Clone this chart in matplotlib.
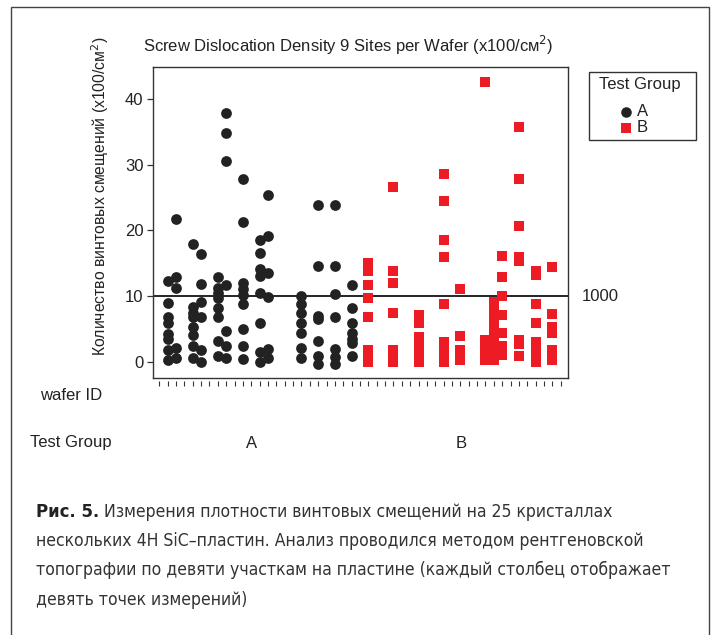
"""
plot.py - Screw dislocation density, 9 sites per wafer, grouped by test group
"""
import matplotlib
matplotlib.use("Agg")
import matplotlib.pyplot as plt
from matplotlib import font_manager
from matplotlib.lines import Line2D
from matplotlib.patches import Rectangle

# wafer slot on the x axis -> 9-site measurements (x100/cm^2)
slots_a = [1, 2, 4, 5, 7, 8, 10, 12, 13, 17, 19, 21, 23]
density_a = [
    [12.4, 9.0, 6.8, 5.9, 4.3, 3.5, 1.8, 0.4],
    [21.7, 13.0, 11.2, 2.1, 0.6],
    [17.9, 8.4, 7.5, 6.8, 5.4, 4.1, 2.4, 0.6],
    [16.4, 11.9, 9.2, 6.9, 1.8, 0.1],
    [12.9, 11.3, 10.5, 9.8, 8.2, 6.8, 3.3, 0.9],
    [37.8, 34.8, 30.6, 11.7, 4.8, 2.4, 0.6],
    [27.8, 21.3, 12.0, 11.1, 10.2, 8.8, 5.0, 2.4, 0.5],
    [18.6, 16.6, 14.2, 13.1, 10.5, 6.0, 1.5, 0.1],
    [25.4, 19.2, 13.5, 9.9, 2.0, 0.6],
    [10.0, 8.8, 7.5, 6.0, 4.5, 2.1, 0.6],
    [23.8, 14.6, 7.0, 6.5, 3.2, 1.0, -0.3],
    [23.8, 14.6, 10.3, 6.8, 2.0, 0.8, -0.3],
    [11.7, 8.2, 6.0, 4.4, 3.5, 2.9, 1.0],
]
slots_b = [25, 28, 31, 34, 36, 39, 40, 41, 43, 45, 47]
density_b = [
    [15.1, 13.9, 11.7, 9.7, 6.8, 1.9, 1.1, 0.1],
    [26.6, 13.9, 12.0, 7.5, 1.8, 0.9, 0.0],
    [7.2, 5.9, 3.9, 3.0, 1.9, 1.0, 0.1],
    [28.6, 24.5, 18.6, 16.0, 8.8, 3.1, 1.9, 1.0, 0.1],
    [11.1, 4.0, 1.9, 0.4],
    [42.5, 3.4, 2.4, 1.4, 0.4],
    [9.2, 8.2, 7.0, 5.7, 4.4, 3.4, 1.9, 0.4],
    [16.2, 12.9, 10.0, 7.2, 4.4, 2.4, 1.1],
    [35.7, 27.8, 20.7, 16.0, 15.3, 3.4, 2.7, 0.9],
    [13.9, 13.2, 8.8, 5.9, 3.1, 2.0, 0.6, 0.0],
    [14.5, 7.4, 5.4, 4.4, 1.9, 0.4],
]
n_slots = 49
limit = 10
yticks = [0, 10, 20, 30, 40]
groups = ["A", "B"]

title = "Screw Dislocation Density 9 Sites per Wafer (x100/см$^2$)"
ylabel = "Количество винтовых смещений (x100/см$^2$)"
caption_bold = "Рис. 5."
caption_lines = [
    "Измерения плотности винтовых смещений на 25 кристаллах",
    "нескольких 4H SiC–пластин. Анализ проводился методом рентгеновской",
    "топографии по девяти участкам на пластине (каждый столбец отображает",
    "девять точек измерений)",
]

RED = "#ed1c24"
INK = "#222222"
W, H = 716, 635

installed = {f.name for f in font_manager.fontManager.ttflist}
plt.rcParams["font.family"] = ["Liberation Sans", "DejaVu Sans"]
narrow = "Liberation Sans Narrow" if "Liberation Sans Narrow" in installed else "DejaVu Sans"


def fx(px):
    return px / W


def fy(py):
    return 1 - py / H


fig = plt.figure(figsize=(W / 100, H / 100), dpi=100)
ax = fig.add_axes([fx(152.5), fy(378.3), fx(568.3) - fx(152.5), fy(67) - fy(378.3)])

for s, vals in zip(slots_a, density_a):
    ax.scatter([s] * len(vals), vals, s=60, marker="o", color=INK, linewidths=0, zorder=3)
for s, vals in zip(slots_b, density_b):
    ax.scatter([s] * len(vals), vals, s=56, marker="s", color=RED, linewidths=0, zorder=3)

ax.axhline(limit, color="black", lw=1.2, zorder=2)

ax.set_xlim(-0.81, 48.9)
ax.set_ylim(-2.43, 44.8)
ax.set_xticks(range(n_slots))
ax.set_xticklabels([])
ax.set_yticks(yticks)
ax.tick_params(axis="y", length=4, width=0.9, color="#333333", labelsize=12, labelcolor=INK, pad=2.5)
ax.tick_params(axis="x", length=3.5, width=0.8, color="#333333")
for side in ("left", "top", "right"):
    ax.spines[side].set_color("#333333")
    ax.spines[side].set_linewidth(1.0)
# ticks sit slightly below the frame line
ax.spines["bottom"].set_position(("outward", 2))
ax.spines["bottom"].set_visible(False)
ax.plot([0, 1], [0, 0], transform=ax.transAxes, color="#333333", lw=1.0, clip_on=False)

fig.text(fx(348), fy(45), title, ha="center", va="center", fontsize=12, color=INK)
fig.text(fx(100), fy(196), ylabel, ha="center", va="center", rotation=90, fontsize=11.3, color=INK)
fig.text(fx(582), fy(297), "1000", ha="left", va="center", fontsize=12, color=INK)
fig.text(fx(40), fy(396), "wafer ID", ha="left", va="center", fontsize=12, color=INK)
fig.text(fx(30), fy(443), "Test Group", ha="left", va="center", fontsize=12, color=INK)
fig.text(fx(252), fy(443), groups[0], ha="center", va="center", fontsize=12, color=INK)
fig.text(fx(461), fy(443), groups[1], ha="center", va="center", fontsize=12, color=INK)

# legend box drawn by hand to match the spacing of the original
fig.add_artist(Rectangle((fx(589), fy(140)), fx(696) - fx(589), fy(72) - fy(140),
                         transform=fig.transFigure, fill=False, edgecolor="#333333", lw=1.0))
fig.text(fx(640), fy(85), "Test Group", ha="center", va="center", fontsize=12, color=INK)
for py, grp, mk, col in [(112, groups[0], "o", INK), (128, groups[1], "s", RED)]:
    fig.add_artist(Line2D([fx(626)], [fy(py)], transform=fig.transFigure, marker=mk,
                          markersize=7.6 if mk == "o" else 7.0, color=col, lw=0, mew=0))
    fig.text(fx(637), fy(py), grp, ha="left", va="center", fontsize=12, color=INK)

# outer frame of the figure panel
fig.add_artist(Rectangle((fx(11), -0.05), fx(709) - fx(11), fy(7) + 0.05,
                         transform=fig.transFigure, fill=False, edgecolor="#444444", lw=1.0))

# caption: fit the font so the widest line spans the same width as in the original
renderer = fig.canvas.get_renderer()
probe = fig.text(0, 0, caption_lines[2], fontsize=15, family=narrow, stretch="condensed")
width = probe.get_window_extent(renderer).width
probe.remove()
cap_size = 15 * (673 - 36) / width

line_y = [512, 541, 570, 600]
bold = fig.text(fx(36), fy(line_y[0]), caption_bold, ha="left", va="center",
                fontsize=cap_size * 1.05, fontweight="bold", family=narrow, stretch="condensed",
                color=INK)
ax.annotate(" " + caption_lines[0], xy=(1, 0.5), xycoords=bold, ha="left", va="center",
            fontsize=cap_size, family=narrow, stretch="condensed", color="#333333",
            annotation_clip=False)
for py, line in zip(line_y[1:], caption_lines[1:]):
    fig.text(fx(36), fy(py), line, ha="left", va="center", fontsize=cap_size,
             family=narrow, stretch="condensed", color="#333333")

fig.savefig("out.png", dpi=100)
